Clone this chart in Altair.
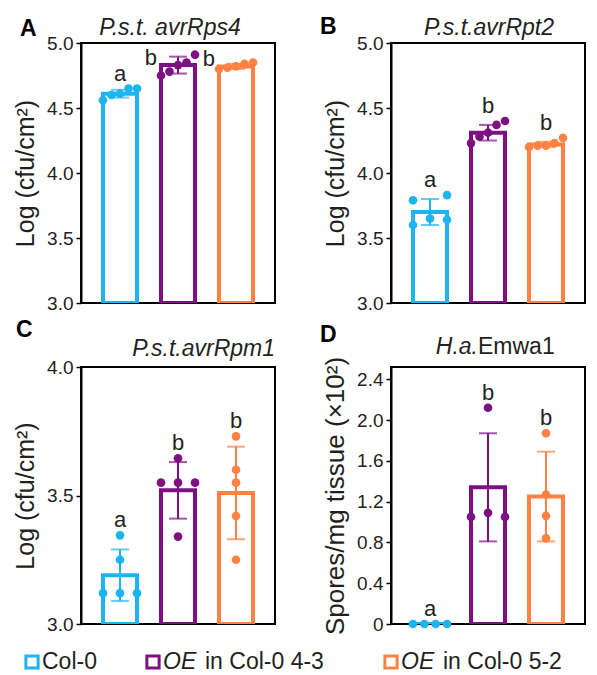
import altair as alt
import pandas as pd
import numpy as np

FONT = "Liberation Sans"
INK = "#231f20"

groups = ["Col-0", "OE in Col-0 4-3", "OE in Col-0 5-2"]
colors = ["#1CB5F0", "#7F1084", "#FF8243"]
legend_colors = ["#1AAEE8", "#6C2A94", "#EE6F1F"]
legend_italic = ["", "OE", "OE"]
legend_plain = ["Col-0", "in Col-0 4-3", "in Col-0 5-2"]

# Panel A  P.s.t. avrRps4
a_mean = [4.61, 4.83, 4.82]
a_sd = [0.03, 0.065, 0.02]
a_col0 = [4.65, 4.65, 4.61, 4.60, 4.56]
a_oe43 = [4.85, 4.91, 4.83, 4.75, 4.78]
a_oe52 = [4.85, 4.84, 4.82, 4.80, 4.81]
a_letters = ["a", "b", "b"]

# Panel B  P.s.t.avrRpt2
b_mean = [3.70, 4.31, 4.22]
b_sd = [0.10, 0.06, 0.02]
b_col0 = [3.83, 3.79, 3.65, 3.64, 3.60]
b_oe43 = [4.37, 4.40, 4.31, 4.28, 4.23]
b_oe52 = [4.27, 4.23, 4.21, 4.20, 4.21]
b_letters = ["a", "b", "b"]

# Panel C  P.s.t.avrRpm1
c_mean = [3.19, 3.52, 3.51]
c_sd = [0.10, 0.11, 0.18]
c_col0 = [3.345, 3.25, 3.12, 3.12, 3.12]
c_oe43 = [3.645, 3.55, 3.55, 3.55, 3.34]
c_oe52 = [3.73, 3.60, 3.55, 3.42, 3.25]
c_letters = ["a", "b", "b"]

# Panel D  H.a.Emwa1 (spores/mg tissue, x10^2)
d_mean = [0.0, 1.34, 1.25]
d_sd = [0.0, 0.53, 0.44]
d_col0 = [0.0, 0.0, 0.0, 0.0]
d_oe43 = [2.12, 1.09, 1.05, 1.05]
d_oe52 = [1.87, 1.27, 1.06, 0.84]
d_letters = ["a", "b", "b"]

ticks_ab = [3.0, 3.5, 4.0, 4.5, 5.0]
ticks_c = [3.0, 3.5, 4.0]
ticks_d = [0, 0.4, 0.8, 1.2, 1.6, 2.0, 2.4]

PW = 194          # plot width of each panel
STEP = 58.0       # pixel distance between bar centres
BAR_W = 34        # bar width (stroke centre to stroke centre)
OUTER = (PW - 2 * STEP) / 2
X_DOMAIN = [-OUTER / STEP, 2 + OUTER / STEP]
HALF = (BAR_W / 2) / STEP   # half bar width in x units

color_scale = alt.Scale(domain=groups, range=colors)


def spread(vals, thresh):
    """Beeswarm-like horizontal slots for points whose values nearly coincide."""
    order = sorted(range(len(vals)), key=lambda i: vals[i])
    clusters, cur = [], [order[0]]
    for i in order[1:]:
        if vals[i] - vals[cur[-1]] <= thresh:
            cur.append(i)
        else:
            clusters.append(cur)
            cur = [i]
    clusters.append(cur)
    off = [0.0] * len(vals)
    for c in clusters:
        n = len(c)
        if n == 1:
            continue
        slots = [-1.0, 1.0, 0.0] if n == 3 else list(np.linspace(-1, 1, n))
        for i, s in zip(c, slots):
            off[i] = float(s)
    return off


def panel(tag, means, sds, pts, letters, domain, ticks, ytitle, height,
          side=(False, False, False), label_expr=None, tag_xy=(-61, -7),
          title=None, title_xy=(0, -8), title_align="center", split_title=None,
          ytitle_size=25):
    bar_df = pd.DataFrame({
        "group": groups,
        "pos": [0, 1, 2],
        "mean": means,
        "lo": [m - s for m, s in zip(means, sds)],
        "hi": [m + s for m, s in zip(means, sds)],
        "base": domain[0],
        "top": [max(m + s, max(p)) for m, s, p in zip(means, sds, pts)],
        "letter": letters,
        "side": list(side),
    })
    span = domain[1] - domain[0]
    rows = []
    for k, (g, p) in enumerate(zip(groups, pts)):
        for v, o in zip(p, spread(p, 0.035 * span)):
            rows.append({"group": g, "value": v, "pos": k + o * HALF})
    pt_df = pd.DataFrame(rows)

    xenc = alt.X("pos:Q", scale=alt.Scale(domain=X_DOMAIN, nice=False, zero=False,
                                          padding=0),
                 axis=None)
    ysc = alt.Scale(domain=domain, nice=False, zero=False, padding=0)
    axis_kw = dict(values=ticks, title=ytitle, titleFontSize=ytitle_size)
    if label_expr:
        axis_kw["labelExpr"] = label_expr
    else:
        axis_kw["format"] = ".1f"
    col = alt.Color("group:N", scale=color_scale, legend=None)

    bars = alt.Chart(bar_df).mark_bar(fill="white", strokeWidth=4, width=BAR_W,
                                      clip=True).encode(
        x=xenc,
        y=alt.Y("mean:Q", scale=ysc, axis=alt.Axis(**axis_kw)),
        y2="base:Q",
        stroke=alt.Stroke("group:N", scale=color_scale, legend=None),
    )
    eb = alt.Chart(bar_df).transform_filter("datum.hi > datum.lo")
    rule = eb.mark_rule(strokeWidth=2).encode(
        x=xenc, y=alt.Y("lo:Q", scale=ysc), y2="hi:Q", color=col)
    cap_lo = eb.mark_tick(orient="horizontal", thickness=2, size=18).encode(
        x=xenc, y=alt.Y("lo:Q", scale=ysc), color=col)
    cap_hi = eb.mark_tick(orient="horizontal", thickness=2, size=18).encode(
        x=xenc, y=alt.Y("hi:Q", scale=ysc), color=col)
    points = alt.Chart(pt_df).mark_circle(size=75, opacity=1).encode(
        x=xenc, y=alt.Y("value:Q", scale=ysc), color=col)
    let_top = alt.Chart(bar_df).transform_filter("!datum.side").mark_text(
        fontSize=22, font=FONT, color=INK, baseline="alphabetic", dy=-8
    ).encode(x=xenc, y=alt.Y("top:Q", scale=ysc), text="letter:N")
    let_side = alt.Chart(bar_df).transform_filter("datum.side").mark_text(
        fontSize=22, font=FONT, color=INK, baseline="alphabetic", align="right", dx=-21
    ).encode(x=xenc, y=alt.Y("mean:Q", scale=ysc), text="letter:N")
    tag_mark = alt.Chart(pd.DataFrame({"tag": [tag]})).mark_text(
        fontSize=23, font=FONT, fontWeight="bold", color="black",
        align="left", baseline="alphabetic"
    ).encode(x=alt.value(tag_xy[0]), y=alt.value(tag_xy[1]), text="tag:N")

    layers = [bars, rule, cap_lo, cap_hi, points, let_top, let_side, tag_mark]
    if title:
        layers.append(alt.Chart(pd.DataFrame({"t": [title]})).mark_text(
            fontSize=23, font=FONT, fontStyle="italic", color=INK,
            align=title_align, baseline="alphabetic"
        ).encode(x=alt.value(title_xy[0]), y=alt.value(title_xy[1]), text="t:N"))
    if split_title:
        ital, plain, tx, ty = split_title
        tdf = pd.DataFrame({"i": [ital], "p": [plain]})
        layers.append(alt.Chart(tdf).mark_text(
            fontSize=23, font=FONT, fontStyle="italic", color=INK,
            align="right", baseline="alphabetic"
        ).encode(x=alt.value(tx), y=alt.value(ty), text="i:N"))
        layers.append(alt.Chart(tdf).mark_text(
            fontSize=23, font=FONT, color=INK, align="left", baseline="alphabetic"
        ).encode(x=alt.value(tx), y=alt.value(ty), text="p:N"))
    return alt.layer(*layers).properties(width=PW, height=height)


ytitle_log = "Log (cfu/cm\u00b2)"
pA = panel("A", a_mean, a_sd, [a_col0, a_oe43, a_oe52], a_letters, [3.0, 5.0],
           ticks_ab, ytitle_log, 260, side=(False, True, True), tag_xy=(-61, -7),
           title="P.s.t. avrRps4", title_xy=(89, -8))
pB = panel("B", b_mean, b_sd, [b_col0, b_oe43, b_oe52], b_letters, [3.0, 5.0],
           ticks_ab, ytitle_log, 260, tag_xy=(-71, -9),
           title="P.s.t.avrRpt2", title_xy=(98, -8))
pC = panel("C", c_mean, c_sd, [c_col0, c_oe43, c_oe52], c_letters, [3.0, 4.0],
           ticks_c, ytitle_log, 257, tag_xy=(-65, -30),
           title="P.s.t.avrRpm1", title_xy=(PW, -11), title_align="right")
pD = panel("D", d_mean, d_sd, [d_col0, d_oe43, d_oe52], d_letters, [0.0, 2.52],
           ticks_d, "Spores/mg tissue (\u00d710\u00b2)", 257,
           label_expr="datum.value == 0 ? '0' : format(datum.value, '.1f')",
           tag_xy=(-71, -25), split_title=("H.a.", "Emwa1", 87, -13),
           ytitle_size=26)

grid = alt.concat(pA, pB, pC, pD, columns=2, spacing={"row": 4, "column": 43})

# custom legend row (x measured from the left edge of panel A's plot area)
LFS = 23
leg_df = pd.DataFrame({"group": groups, "idx": [0, 1, 2],
                       "ital": legend_italic, "plain": legend_plain})
lx = alt.X("idx:Q", scale=alt.Scale(domain=[0, 1, 2], range=[-49, 72, 310]), axis=None)
lcol = alt.Scale(domain=groups, range=legend_colors)
sq = alt.Chart(leg_df).mark_point(shape="square", filled=False, size=150, strokeWidth=3,
                                  opacity=1).encode(
    x=lx, y=alt.value(12), stroke=alt.Stroke("group:N", scale=lcol, legend=None))
lit = alt.Chart(leg_df).transform_filter("datum.ital != ''").mark_text(
    align="left", baseline="middle", dx=10, fontSize=LFS, font=FONT,
    fontStyle="italic", color=INK).encode(x=lx, y=alt.value(12), text="ital:N")
lp1 = alt.Chart(leg_df).transform_filter("datum.ital == ''").mark_text(
    align="left", baseline="middle", dx=10, fontSize=LFS, font=FONT,
    color=INK).encode(x=lx, y=alt.value(12), text="plain:N")
lp2 = alt.Chart(leg_df).transform_filter("datum.ital != ''").mark_text(
    align="left", baseline="middle", dx=12 + round(1.72 * LFS), fontSize=LFS, font=FONT,
    color=INK).encode(x=lx, y=alt.value(12), text="plain:N")
legend = alt.layer(sq, lit, lp1, lp2).properties(
    width=300, height=24, view=alt.ViewBackground(stroke="transparent"))

chart = alt.vconcat(grid, legend, spacing=12).properties(
    padding={"left": 4, "top": 7, "right": 0, "bottom": 0}
).configure_view(
    stroke="black", strokeWidth=2
).configure_axis(
    labelFont=FONT, titleFont=FONT, labelFontSize=19, titleFontSize=25,
    titleFontWeight="normal", labelColor=INK, titleColor=INK,
    domainColor="black", domainWidth=2, tickColor="black", tickWidth=1.5,
    tickSize=5, grid=False, labelPadding=3, titlePadding=8,
)

chart.save("out.html", embed_options={"renderer": "svg", "actions": False})
